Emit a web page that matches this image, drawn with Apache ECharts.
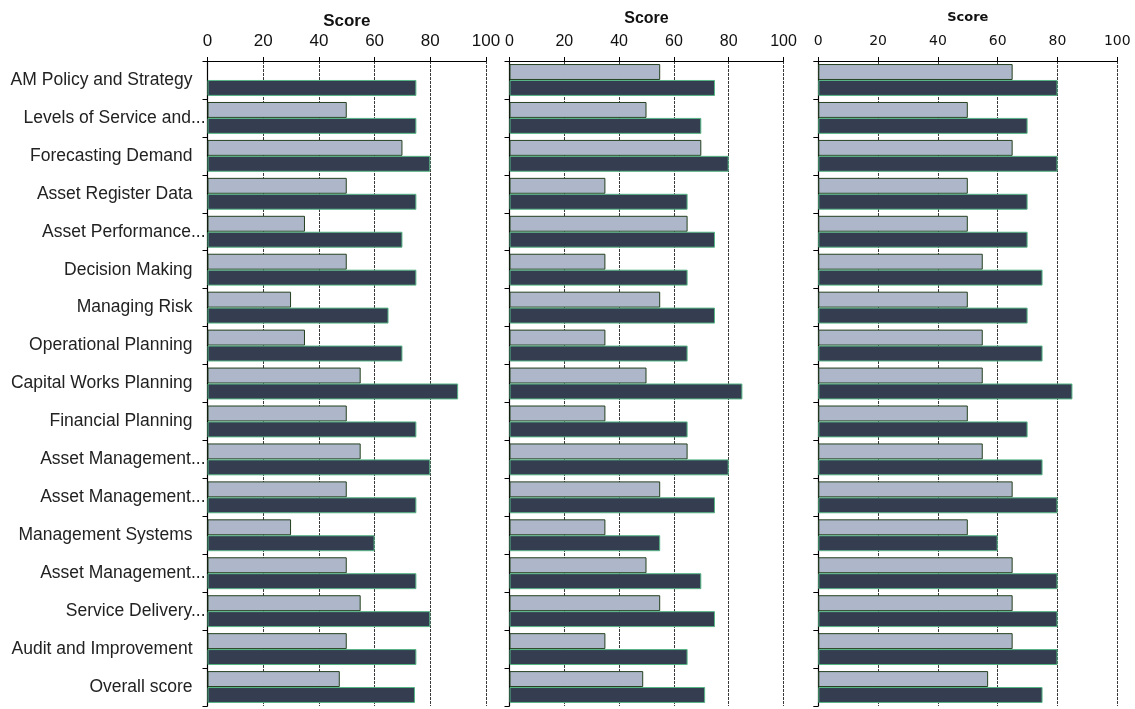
<!DOCTYPE html>
<html>
<head>
<meta charset="utf-8">
<script src="https://cdn.jsdelivr.net/npm/echarts@6/dist/echarts.min.js"></script>
<style>
  html, body { margin: 0; padding: 0; background: #ffffff; }
  #chart { width: 1135px; height: 709px; }
</style>
</head>
<body>
<div id="chart"></div>
<script>
// Assessment areas, top to bottom
const categories = [
  'AM Policy and Strategy',
  'Levels of Service and...',
  'Forecasting Demand',
  'Asset Register Data',
  'Asset Performance...',
  'Decision Making',
  'Managing Risk',
  'Operational Planning',
  'Capital Works Planning',
  'Financial Planning',
  'Asset Management...',
  'Asset Management...',
  'Management Systems',
  'Asset Management...',
  'Service Delivery...',
  'Audit and Improvement',
  'Overall score'
];

// Scores per panel: lighter bar (current) and darker bar (target)
const panel1Light = [null, 50, 70, 50, 35, 50, 30, 35, 55, 50, 55, 50, 30, 50, 55, 50, 47.5];
const panel1Dark  = [75, 75, 80, 75, 70, 75, 65, 70, 90, 75, 80, 75, 60, 75, 80, 75, 74.5];
const panel2Light = [55, 50, 70, 35, 65, 35, 55, 35, 50, 35, 65, 55, 35, 50, 55, 35, 48.8];
const panel2Dark  = [75, 70, 80, 65, 75, 65, 75, 65, 85, 65, 80, 75, 55, 70, 75, 65, 71.4];
const panel3Light = [65, 50, 65, 50, 50, 55, 50, 55, 55, 50, 55, 65, 50, 65, 65, 65, 56.8];
const panel3Dark  = [80, 70, 80, 70, 70, 75, 70, 75, 85, 70, 75, 80, 60, 80, 80, 80, 75];

const axisTitle = 'Score';
const scoreTicks = { min: 0, max: 100, interval: 20 };

const panels = [
  { left: 207.5, width: 278.5, light: panel1Light, dark: panel1Dark,
    font: 'Liberation Sans, Arial, sans-serif', tickSize: 17, titleSize: 17, titleGap: 31, showNames: true, labelGap: 11 },
  { left: 509.5, width: 274, light: panel2Light, dark: panel2Dark,
    font: 'Liberation Sans, Arial, sans-serif', tickSize: 16, titleSize: 16, titleGap: 34, showNames: false, labelGap: 11 },
  { left: 818.3, width: 299, light: panel3Light, dark: panel3Dark,
    font: 'DejaVu Sans, Verdana, sans-serif', tickSize: 14, titleSize: 13, titleGap: 37, showNames: false, labelGap: 13 }
];

const gridTop = 61;
const gridHeight = 645;

const grid = [], xAxis = [], yAxis = [], series = [];

panels.forEach((p, i) => {
  grid.push({
    left: p.left, top: gridTop, width: p.width, height: gridHeight,
    containLabel: false, outerBoundsMode: 'none'
  });

  xAxis.push({
    gridIndex: i,
    type: 'value',
    position: 'top',
    min: scoreTicks.min, max: scoreTicks.max, interval: scoreTicks.interval,
    name: axisTitle,
    nameLocation: 'middle',
    nameGap: p.titleGap,
    nameMoveOverlap: false,
    nameTextStyle: { fontFamily: p.font, fontWeight: 'bold', fontSize: p.titleSize, color: '#111' },
    axisLine: { show: true, lineStyle: { color: '#000', width: 1 } },
    axisTick: { show: true, length: 4, inside: false, lineStyle: { color: '#000' } },
    axisLabel: { fontFamily: p.font, fontSize: p.tickSize, color: '#111', margin: p.labelGap },
    splitLine: { show: true, lineStyle: { color: '#3a3a3a', type: [3, 1], width: 1 } }
  });

  yAxis.push({
    gridIndex: i,
    type: 'category',
    data: categories,
    inverse: true,
    axisLine: { show: true, onZero: false, lineStyle: { color: '#000', width: 1.2 } },
    axisTick: { show: true, length: 5, inside: false, lineStyle: { color: '#000' } },
    axisLabel: {
      show: p.showNames,
      interval: 0,
      margin: 2,
      fontFamily: 'Liberation Sans, Arial, sans-serif',
      fontSize: 17.5,
      color: '#222',
      formatter: v => v.endsWith('...') ? v : v + '{s|}',
      rich: { s: { width: 13 } }
    },
    splitLine: { show: false }
  });

  series.push({
    type: 'bar',
    xAxisIndex: i, yAxisIndex: i,
    data: p.light,
    barGap: '0%',
    barCategoryGap: '16%',
    itemStyle: { color: '#adb7c9', borderColor: '#24401f', borderWidth: 1 },
    emphasis: { disabled: true },
    animation: false
  });
  series.push({
    type: 'bar',
    xAxisIndex: i, yAxisIndex: i,
    data: p.dark,
    barGap: '0%',
    barCategoryGap: '16%',
    itemStyle: { color: '#343e50', borderColor: '#55b585', borderWidth: 1 },
    emphasis: { disabled: true },
    animation: false
  });
});

const chart = echarts.init(document.getElementById('chart'), null, { renderer: 'canvas' });
chart.setOption({
  backgroundColor: '#ffffff',
  animation: false,
  grid, xAxis, yAxis, series
});
</script>
</body>
</html>
